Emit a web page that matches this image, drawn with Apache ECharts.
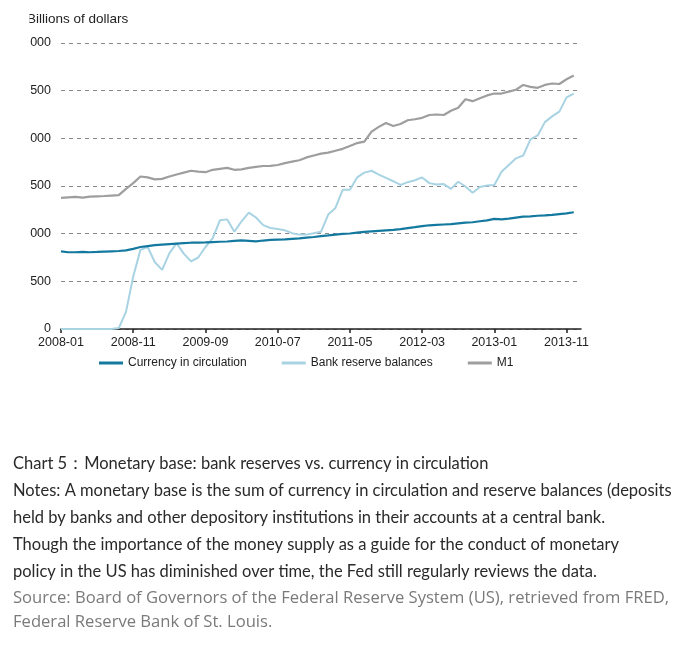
<!DOCTYPE html>
<html><head><meta charset="utf-8">
<script src="https://cdn.jsdelivr.net/npm/echarts@6/dist/echarts.min.js"></script>
<style>html,body{margin:0;padding:0;background:#fff}#c{width:689px;height:652px}</style>
</head><body><div id="c"></div>
<script>
const months = [
'2008-01','2008-02','2008-03','2008-04','2008-05','2008-06','2008-07','2008-08','2008-09','2008-10','2008-11','2008-12',
'2009-01','2009-02','2009-03','2009-04','2009-05','2009-06','2009-07','2009-08','2009-09','2009-10','2009-11','2009-12',
'2010-01','2010-02','2010-03','2010-04','2010-05','2010-06','2010-07','2010-08','2010-09','2010-10','2010-11','2010-12',
'2011-01','2011-02','2011-03','2011-04','2011-05','2011-06','2011-07','2011-08','2011-09','2011-10','2011-11','2011-12',
'2012-01','2012-02','2012-03','2012-04','2012-05','2012-06','2012-07','2012-08','2012-09','2012-10','2012-11','2012-12',
'2013-01','2013-02','2013-03','2013-04','2013-05','2013-06','2013-07','2013-08','2013-09','2013-10','2013-11','2013-12',
'2014-01'];
const currency = [815,805,805,808,805,808,812,815,818,825,840,860,870,880,885,890,895,900,905,905,908,912,915,918,
925,930,925,920,928,935,938,940,945,950,958,965,975,982,990,997,1002,1010,1018,1025,1030,1035,1040,1048,
1058,1068,1080,1088,1092,1096,1100,1108,1115,1120,1130,1140,1155,1150,1158,1168,1178,1182,1188,1192,1198,1205,1212,1225,null];
const reserves = [0,0,0,0,0,0,0,0,10,180,550,830,860,700,620,794,900,790,710,750,860,950,1140,1150,
1020,1130,1220,1170,1090,1060,1050,1035,1005,990,990,1005,1020,1200,1270,1460,1460,1590,1640,1660,1620,1585,1550,1511,
1540,1560,1590,1530,1515,1520,1470,1545,1495,1430,1490,1505,1510,1650,1720,1790,1820,1990,2030,2170,2230,2280,2430,2470,null];
const m1 = [1375,1380,1385,1378,1388,1392,1395,1400,1405,1470,1530,1600,1590,1570,1575,1600,1620,1640,1660,1650,1645,1670,1680,1690,
1670,1675,1690,1700,1710,1712,1720,1740,1755,1770,1800,1820,1840,1850,1870,1890,1920,1950,1965,2070,2120,2160,2130,2150,
2190,2200,2215,2245,2250,2245,2290,2320,2410,2390,2420,2450,2470,2470,2490,2510,2560,2540,2530,2560,2575,2570,2620,2660,null];
const yTickLabels = ['0','500','000','500','000','500','000'];
const seriesNames = ['Currency in circulation','Bank reserve balances','M1'];
const captionLines = [
 'Chart 5：Monetary base: bank reserves vs. currency in circulation',
 'Notes: A monetary base is the sum of currency in circulation and reserve balances (deposits',
 'held by banks and other depository institutions in their accounts at a central bank.',
 'Though the importance of the money supply as a guide for the conduct of monetary',
 'policy in the US has diminished over time, the Fed still regularly reviews the data.'
];
const sourceLines = [
 'Source: Board of Governors of the Federal Reserve System (US), retrieved from FRED,',
 'Federal Reserve Bank of St. Louis.'
];

const chart = echarts.init(document.getElementById('c'), null, {renderer:'canvas'});
const FF = 'Liberation Sans, Arial, sans-serif';
const capY = [464, 491, 518, 545, 572];
const srcY = [598, 622];
const graphics = [
  {type:'rect', z:100, shape:{x:0,y:0,width:29.5,height:32}, style:{fill:'#fff'}}
];
captionLines.forEach((t,i)=>graphics.push({type:'text', x:13, y:capY[i], style:{text:t, font:'16.5px Lato', fill:'#2a2a2a', verticalAlign:'middle', textVerticalAlign:'middle'}}));
sourceLines.forEach((t,i)=>graphics.push({type:'text', x:13, y:srcY[i], style:{text:t, font:'16.6px "Open Sans"', fill:'#7a7a7a', verticalAlign:'middle', textVerticalAlign:'middle'}}));

chart.setOption({
  animation:false,
  backgroundColor:'#fff',
  title:{text:'Billions of dollars', left:27, top:12, padding:0, textStyle:{fontSize:13.5, fontWeight:'normal', color:'#222', fontFamily:FF}},
  grid:{left:61, right:108, top:43, bottom:323, containLabel:false},
  legend:{data:seriesNames, left:94, top:352, icon:'rect', itemWidth:24, itemHeight:3, itemGap:35,
    textStyle:{fontSize:12, color:'#222', fontFamily:FF}},
  xAxis:{type:'category', data:months, boundaryGap:false,
    axisLine:{lineStyle:{color:'#222', width:1.5}},
    axisTick:{interval:9, length:4, lineStyle:{color:'#222', width:1.5}},
    axisLabel:{interval:9, margin:7, fontSize:12.5, color:'#222', fontFamily:FF},
    splitLine:{show:false}},
  yAxis:{type:'value', min:0, max:3000, interval:500,
    axisLine:{show:false}, axisTick:{show:false},
    axisLabel:{margin:10, fontSize:12.5, color:'#222', fontFamily:FF, formatter:(v)=>yTickLabels[Math.round(v/500)]},
    splitLine:{lineStyle:{type:[4,4], color:'#888', width:1}}},
  series:[
    {name:seriesNames[0], type:'line', data:currency, showSymbol:false, lineStyle:{width:2.2, color:'#14799f'}, itemStyle:{color:'#14799f'}, z:4},
    {name:seriesNames[1], type:'line', data:reserves, showSymbol:false, lineStyle:{width:2, color:'#a8d3e3'}, itemStyle:{color:'#a8d3e3'}, z:2},
    {name:seriesNames[2], type:'line', data:m1, showSymbol:false, lineStyle:{width:2.2, color:'#9e9e9e'}, itemStyle:{color:'#9e9e9e'}, z:3}
  ],
  graphic:graphics
});
</script></body></html>
